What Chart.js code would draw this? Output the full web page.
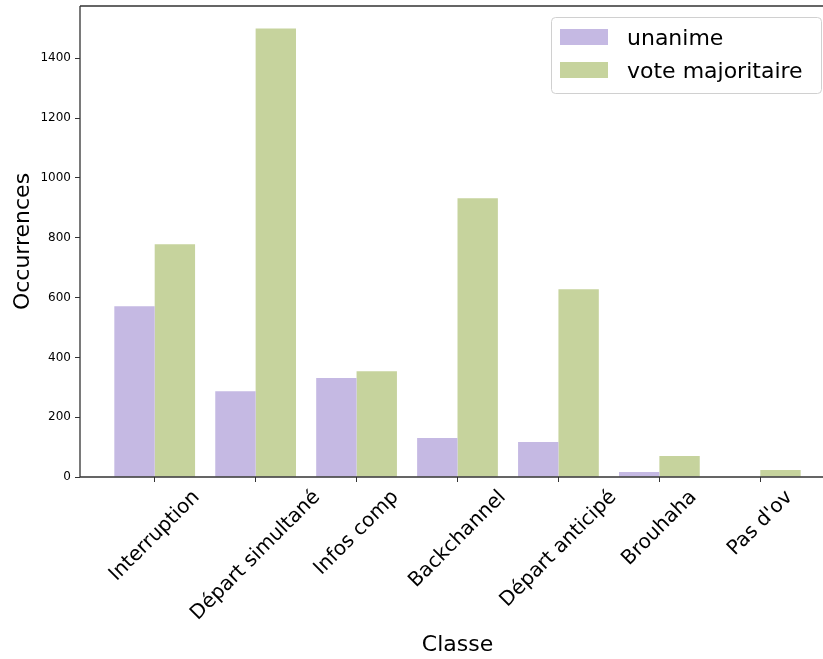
<!DOCTYPE html>
<html>
<head>
<meta charset="utf-8">
<script src="https://cdn.jsdelivr.net/npm/chart.js@4/dist/chart.umd.min.js"></script>
<style>
  html, body { margin: 0; padding: 0; background: #fff; overflow: hidden; }
  canvas { display: block; }
</style>
</head>
<body>
<canvas id="chart" width="835" height="659"></canvas>
<script>
// values
var categories = ["Interruption", "Départ simultané", "Infos comp", "Backchannel",
                  "Départ anticipé", "Brouhaha", "Pas d'ov"];
var unanime = [571, 287, 331, 130, 117, 17, 2];
var voteMajoritaire = [778, 1500, 354, 932, 628, 70, 23];
var yTicks = [0, 200, 400, 600, 800, 1000, 1200, 1400];

var FONT = "DejaVu Sans";
var PURPLE = "#c5b9e3";
var GREEN = "#c6d39d";
var SPINE = "#333";

function points(vals) {
  return vals.map(function (v, i) { return { x: i, y: v }; });
}

// matplotlib-style frame: spines drawn over bars, centred rotated tick labels,
// legend box inside the axes at upper right.
var mplPlugin = {
  id: "mplFrame",
  afterDatasetsDraw: function (chart) {
    var c = chart.ctx, a = chart.chartArea;
    c.save();
    c.strokeStyle = SPINE;
    c.lineWidth = 1.3;
    c.beginPath();
    c.moveTo(a.left, a.top); c.lineTo(a.right + 5, a.top);
    c.moveTo(a.left, a.top); c.lineTo(a.left, a.bottom);
    c.moveTo(a.left, a.bottom); c.lineTo(a.right + 5, a.bottom);
    c.stroke();
    c.restore();
  },
  afterDraw: function (chart) {
    var c = chart.ctx, a = chart.chartArea;
    var xs = chart.scales.x;
    c.save();
    // x tick labels, rotated 45 deg and centred on the tick
    c.font = "20px '" + FONT + "'";
    c.fillStyle = "#000";
    c.textAlign = "center";
    c.textBaseline = "middle";
    var h = 23, top = a.bottom + 9;
    categories.forEach(function (lab, i) {
      var w = c.measureText(lab).width;
      var side = (w + h) * Math.SQRT1_2;
      var cx = xs.getPixelForValue(i);
      var cy = top + side / 2;
      c.save();
      c.translate(cx, cy);
      c.rotate(-Math.PI / 4);
      c.fillText(lab, 0, 0);
      c.restore();
    });

    // legend
    var bx = 551.5, by = 17.5, bw = 270, bh = 76, r = 4;
    c.fillStyle = "rgba(255,255,255,0.8)";
    c.strokeStyle = "#d0d0d0";
    c.lineWidth = 1;
    c.beginPath();
    c.moveTo(bx + r, by);
    c.lineTo(bx + bw - r, by); c.arcTo(bx + bw, by, bx + bw, by + r, r);
    c.lineTo(bx + bw, by + bh - r); c.arcTo(bx + bw, by + bh, bx + bw - r, by + bh, r);
    c.lineTo(bx + r, by + bh); c.arcTo(bx, by + bh, bx, by + bh - r, r);
    c.lineTo(bx, by + r); c.arcTo(bx, by, bx + r, by, r);
    c.closePath();
    c.fill();
    c.stroke();
    c.font = "22px '" + FONT + "'";
    c.textAlign = "left";
    chart.data.datasets.forEach(function (ds, i) {
      var y = 29 + i * 33;
      c.fillStyle = ds.backgroundColor;
      c.fillRect(560, y, 48, 16);
      c.fillStyle = "#000";
      c.fillText(ds.label, 627, y + 10);
    });
    c.restore();
  }
};

new Chart(document.getElementById("chart").getContext("2d"), {
  type: "bar",
  plugins: [mplPlugin],
  data: {
    datasets: [
      { label: "unanime", data: points(unanime), backgroundColor: PURPLE },
      { label: "vote majoritaire", data: points(voteMajoritaire), backgroundColor: GREEN }
    ]
  },
  options: {
    responsive: false,
    animation: false,
    devicePixelRatio: 1,
    layout: { autoPadding: false, padding: { top: 6, right: 0, left: 0, bottom: 0 } },
    categoryPercentage: 0.8,
    barPercentage: 1.0,
    plugins: {
      legend: { display: false },
      tooltip: { enabled: false }
    },
    scales: {
      x: {
        type: "linear",
        offset: false,
        min: -0.74,
        max: 6.74,
        border: { display: false },
        grid: {
          offset: false,
          drawOnChartArea: false,
          drawTicks: true,
          tickLength: 5,
          tickColor: SPINE,
          lineWidth: 1
        },
        ticks: {
          stepSize: 1,
          includeBounds: false,
          autoSkip: false,
          maxRotation: 0,
          callback: function () { return ""; }
        },
        title: {
          display: true,
          text: "Classe",
          color: "#000",
          font: { family: FONT, size: 22 },
          padding: { top: 0, bottom: 1 }
        },
        afterFit: function (s) {
          s.height = 182;
          s.paddingLeft = 0; s.paddingRight = 0;
        }
      },
      y: {
        min: 0,
        max: 1575,
        border: { display: false },
        grid: {
          drawOnChartArea: false,
          drawTicks: true,
          tickLength: 5,
          tickColor: SPINE,
          lineWidth: 1
        },
        afterBuildTicks: function (s) {
          s.ticks = yTicks.map(function (v) { return { value: v }; });
        },
        ticks: {
          color: "#000",
          padding: 4,
          font: { family: FONT, size: 12 },
          callback: function (v) { return String(v); }
        },
        title: {
          display: true,
          text: "Occurrences",
          color: "#000",
          font: { family: FONT, size: 22 },
          padding: { top: 10, bottom: 0 }
        },
        afterFit: function (s) {
          s.width = 80;
          s.paddingTop = 0; s.paddingBottom = 0;
        }
      }
    }
  }
});
</script>
</body>
</html>
